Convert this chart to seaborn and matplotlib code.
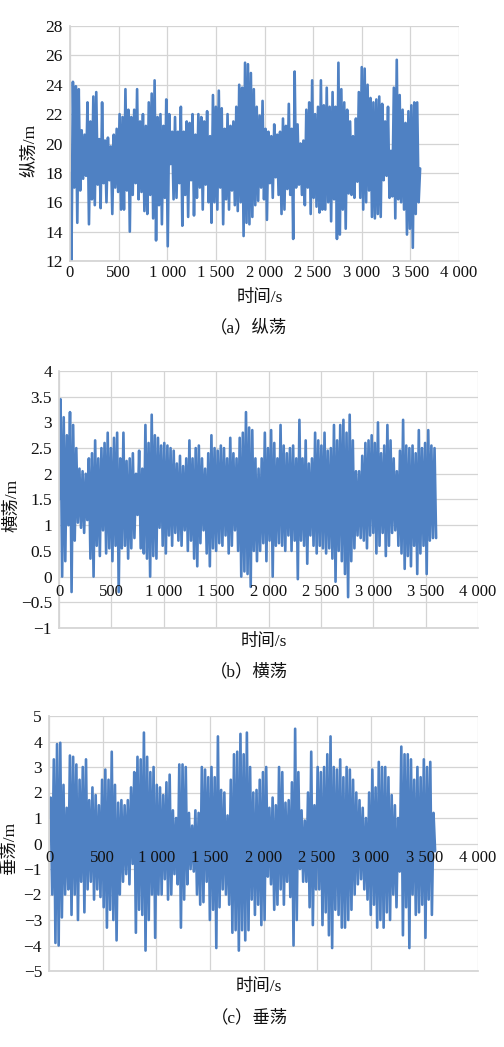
import matplotlib
matplotlib.use("Agg")
import matplotlib.pyplot as plt
import numpy as np
import seaborn as sns

# sample step of the hand-read series (s)
step = 15

# 纵荡 (surge), m, every 15 s
surge = [
    18.0, 12.0, 24.2, 17.0, 23.9, 14.6, 23.7, 16.8, 20.9, 17.6, 20.6, 17.8, 22.8, 14.5, 21.5, 16.2, 23.2, 15.8, 23.5, 17.2,
    20.3, 15.6, 22.8, 17.3, 20.2, 16.0, 20.4, 17.5, 19.8, 15.2, 20.6, 17.0, 21.0, 16.7, 22.0, 15.5, 21.8, 15.5, 23.7, 16.8,
    22.3, 14.0, 21.8, 16.5, 22.3, 17.3, 23.7, 16.2, 21.5, 16.7, 22.0, 15.4, 21.2, 15.2, 22.8, 16.5, 23.4, 14.9, 24.3, 13.4,
    21.8, 15.8, 22.0, 14.5, 21.2, 16.3, 23.0, 13.0, 22.0, 18.6, 20.8, 16.2, 21.8, 16.3, 20.8, 17.3, 22.5, 14.4, 20.8, 16.5,
    21.5, 15.0, 21.4, 17.5, 22.0, 15.1, 20.6, 16.3, 22.0, 17.0, 21.8, 15.5, 21.5, 17.2, 22.2, 16.0, 20.5, 14.6, 23.3, 16.0,
    22.5, 15.5, 23.6, 17.0, 22.4, 14.5, 21.0, 16.2, 22.0, 15.5, 21.2, 16.8, 21.5, 15.8, 22.5, 15.4, 24.0, 16.0, 23.8, 13.7,
    25.5, 14.6, 25.4, 14.5, 24.8, 15.0, 23.7, 15.8, 22.5, 16.1, 21.9, 17.0, 22.9, 16.2, 21.0, 14.8, 20.8, 17.3, 20.5, 16.3,
    21.3, 17.7, 20.6, 16.5, 20.8, 15.2, 21.7, 15.5, 21.2, 16.9, 22.7, 16.5, 21.0, 13.5, 24.9, 17.0, 21.3, 17.2, 20.0, 16.5,
    20.2, 15.8, 22.3, 17.0, 22.8, 15.2, 24.3, 16.3, 22.0, 15.7, 22.5, 15.3, 24.3, 15.5, 22.6, 15.5, 23.8, 16.0, 22.5, 14.7,
    23.5, 16.2, 22.5, 13.5, 25.5, 13.8, 23.7, 15.5, 22.8, 14.2, 22.3, 16.6, 21.5, 16.5, 20.5, 16.3, 21.7, 17.4, 23.5, 16.3,
    25.2, 15.5, 25.1, 16.0, 24.0, 16.8, 23.1, 15.0, 22.8, 14.9, 23.0, 15.2, 23.2, 15.0, 22.7, 17.5, 21.5, 17.8, 22.5, 16.3,
    19.5, 16.4, 23.8, 14.9, 25.7, 16.2, 23.3, 16.0, 22.3, 15.5, 21.4, 13.8, 22.2, 14.2, 22.6, 12.9, 22.8, 15.2, 22.8, 16.0,
    18.3,
]

# 横荡 (sway), m
sway = [
    1.5, 3.45, 0.0, 3.1, 0.3, 2.75, 1.0, 3.2, -0.3, 2.95, 0.7, 2.5, 1.05, 2.1, 0.95, 2.05, 0.85, 2.0, 1.1, 2.3,
    0.35, 2.4, 0.0, 2.65, 0.6, 2.3, 0.4, 2.5, 0.9, 2.6, 0.45, 2.8, 0.55, 2.5, 0.3, 2.7, 0.6, 2.8, -0.3, 2.3,
    0.55, 2.8, 0.6, 2.25, 0.35, 2.3, 0.55, 2.4, 0.75, 2.0, 1.2, 2.45, 0.55, 2.1, 0.45, 2.95, 0.35, 2.6, 0.0, 3.15,
    0.4, 2.75, 0.35, 2.7, 0.95, 2.55, 0.6, 2.6, 0.45, 2.55, 0.8, 2.5, 0.6, 2.45, 0.85, 2.2, 0.7, 2.35, 0.6, 2.15,
    0.9, 2.3, 0.5, 2.65, 0.7, 2.3, 0.35, 2.5, 0.2, 2.55, 0.65, 2.3, 0.9, 2.1, 0.45, 2.4, 0.2, 2.75, 0.55, 2.5,
    0.5, 2.45, 0.65, 2.55, 0.6, 2.5, 0.8, 2.3, 0.45, 2.7, 0.6, 2.4, 0.9, 2.3, 0.5, 2.7, 0.0, 2.8, 0.1, 3.2,
    0.05, 2.9, -0.2, 2.85, 0.5, 2.3, 0.3, 2.1, 0.5, 2.3, 0.65, 2.8, 0.3, 2.5, 0.7, 2.85, 0.0, 2.6, 0.6, 2.3,
    0.65, 2.95, 0.6, 2.55, 0.5, 2.4, 0.8, 2.5, 0.5, 2.55, 0.7, 2.3, -0.05, 3.05, 0.7, 2.3, 0.6, 2.65, 0.25, 2.2,
    0.8, 2.3, 0.6, 2.8, 0.45, 2.65, 0.6, 2.55, 0.55, 2.8, 0.45, 2.45, 0.55, 2.5, 0.35, 2.95, -0.1, 2.65, 0.5, 2.95,
    0.3, 3.05, 0.05, 2.8, -0.4, 3.15, 0.3, 2.65, 0.55, 2.05, 0.8, 2.05, 0.75, 2.35, 0.7, 2.6, 0.55, 2.65, 0.8, 2.75,
    0.85, 2.6, 0.45, 3.0, 0.6, 2.4, 0.85, 2.55, 0.4, 2.95, 0.6, 2.65, 0.85, 2.3, 0.9, 2.05, 0.6, 2.45, 0.45, 3.05,
    0.15, 2.55, 0.4, 2.5, 0.2, 2.55, 0.6, 2.4, 0.05, 2.85, 0.45, 2.5, 0.6, 2.6, 0.05, 2.85, 0.7, 2.55, 0.75, 2.5,
    0.75,
]

# 垂荡 (heave), m
heave = [
    1.0, 1.8, -2.0, 3.3, -3.9, 3.9, -4.0, 3.95, -2.9, 2.3, -2.0, 1.4, -1.8, 3.45, -2.8, 3.4, -2.0, 3.1, -3.0, 2.5,
    -1.5, 3.0, -2.7, 3.3, -1.8, 1.7, -1.5, 2.2, -2.2, 1.9, -1.8, 1.5, -2.1, 2.5, -2.5, 2.9, -3.3, 2.5, -2.6, 3.6,
    -3.0, 2.3, -3.8, 1.6, -2.0, 1.7, -1.5, 1.5, -1.2, 1.7, -1.6, 2.2, -0.8, 2.8, -3.5, 3.4, -2.6, 3.3, -2.8, 4.35,
    -4.2, 3.4, -3.0, 2.8, -2.0, 3.0, -3.7, 2.3, -2.0, 2.2, -2.0, 1.9, -1.4, 2.4, -2.2, 2.7, -2.0, 1.3, -1.2, 1.0,
    -1.6, 3.1, -3.3, 3.1, -2.2, 3.0, -1.6, 1.2, -1.0, 0.7, -1.1, 1.3, -2.0, 1.2, -2.4, 3.0, -2.3, 2.9, -1.5, 2.6,
    -3.0, 3.0, -2.6, 2.6, -4.1, 4.2, -2.5, 2.1, -1.8, 2.0, -2.0, 1.1, -2.4, 2.5, -3.5, 3.5, -3.4, 3.6, -4.2, 4.3,
    -3.4, 3.5, -3.8, 4.35, -3.4, 3.0, -2.2, 2.0, -2.8, 2.1, -2.4, 2.5, -3.2, 2.8, -3.0, 3.0, -1.3, 1.4, -1.6, 1.8,
    -2.6, 1.5, -2.4, 3.0, -1.8, 2.8, -2.4, 1.6, -1.5, 1.7, -2.1, 2.4, -4.0, 4.5, -3.0, 2.8, -1.0, 1.3, -1.5, 0.9,
    -1.5, 2.0, -2.5, 3.6, -3.2, 1.5, -1.8, 3.0, -1.8, 2.8, -3.2, 3.0, -2.7, 3.5, -3.6, 4.2, -4.1, 3.0, -2.6, 2.9,
    -2.8, 3.3, -3.3, 2.6, -3.3, 3.0, -3.0, 2.9, -2.6, 2.5, -2.0, 2.0, -1.6, 1.7, -1.4, 1.4, -1.8, 1.0, -2.2, 2.0,
    -2.8, 2.9, -2.4, 2.2, -3.3, 3.2, -3.0, 3.0, -3.3, 3.0, -2.7, 2.6, -3.0, 1.9, -2.0, 1.5, -2.5, 1.0, -1.1, 3.8,
    -3.6, 3.5, -2.5, 3.5, -4.1, 3.3, -2.0, 2.5, -2.8, 3.0, -2.7, 2.6, -2.4, 3.3, -3.7, 3.0, -2.2, 3.2, -2.8, 1.2,
    -0.3,
]

x_ticks = [0, 500, 1000, 1500, 2000, 2500, 3000, 3500, 4000]
x_tick_labels = ["0", "500", "1 000", "1 500", "2 000", "2 500", "3 000", "3 500", "4 000"]

surge_ticks = [12, 14, 16, 18, 20, 22, 24, 26, 28]
sway_ticks = [-1, -0.5, 0, 0.5, 1, 1.5, 2, 2.5, 3, 3.5, 4]
sway_tick_labels = ["\u22121", "\u22120.5", "0", "0.5", "1", "1.5", "2", "2.5", "3", "3.5", "4"]
heave_ticks = [-5, -4, -3, -2, -1, 0, 1, 2, 3, 4, 5]
heave_tick_labels = ["\u22125", "\u22124", "\u22123", "\u22122", "\u22121", "0", "1", "2", "3", "4", "5"]

y_labels = ["纵荡/m", "横荡/m", "垂荡/m"]
captions = ["（a）纵荡", "（b）横荡", "（c）垂荡"]
x_label = "时间/s"

sns.set_theme(style="white")
plt.rcParams["font.family"] = ["Liberation Serif", "Noto Sans CJK SC"]
plt.rcParams["axes.unicode_minus"] = True

line_color = "#4f81c3"
grid_color = "#d4d4d4"
text_color = "#111111"
W, H = 504, 1047

fig = plt.figure(figsize=(W / 100, H / 100), dpi=100)
fig.patch.set_facecolor("white")


def px_axes(left, top, right, bottom):
    return fig.add_axes([left / W, 1 - bottom / H, (right - left) / W, (bottom - top) / H])


panels = [
    # data, axes box (px), y ticks, y tick labels, x labels sit on y=0?, ylabel xy, xlabel xy, caption xy
    (surge, (70, 26, 459, 261), surge_ticks, [str(v) for v in surge_ticks], False,
     (30, 150), (260, 298), (249, 328)),
    (sway, (59, 371, 478, 628), sway_ticks, sway_tick_labels, True,
     (12, 505), (264, 642), (249, 672)),
    (heave, (49, 716, 478, 971), heave_ticks, heave_tick_labels, True,
     (10, 848), (259, 987), (249, 1018)),
]

for i, (vals, box, yt, ytl, on_zero, ylab_xy, xlab_xy, cap_xy) in enumerate(panels):
    ax = px_axes(*box)
    t = np.arange(len(vals)) * step
    sns.lineplot(x=t, y=vals, ax=ax, color=line_color, linewidth=1.9,
                 estimator=None, sort=False)

    ax.set_xlim(0, 4000)
    ax.set_ylim(yt[0], yt[-1])
    ax.set_xticks(x_ticks)
    ax.set_yticks(yt)
    ax.set_yticklabels(ytl)
    ax.grid(True, color=grid_color, linewidth=0.9)
    for s in ["top", "right"]:
        ax.spines[s].set_visible(False)
    ax.spines["left"].set_color(grid_color)
    ax.spines["bottom"].set_color(grid_color)
    ax.tick_params(axis="y", length=0, pad=5, labelsize=12.5, labelcolor=text_color)
    ax.set_xlabel("")
    ax.set_ylabel("")

    if not on_zero:
        ax.set_xticklabels(x_tick_labels)
        ax.tick_params(axis="x", length=0, pad=3, labelsize=12, labelcolor=text_color)
    else:
        # horizontal axis crosses at y = 0, labels hang just under it
        ax.tick_params(axis="x", length=0, labelbottom=False)
        for xv, lab in zip(x_ticks, x_tick_labels):
            ax.annotate(lab, xy=(xv, 0), xycoords="data", xytext=(0, -5),
                        textcoords="offset points", ha="center", va="top",
                        fontsize=12, color=text_color, zorder=5,
                        annotation_clip=False)

    fig.text(ylab_xy[0] / W, 1 - ylab_xy[1] / H, y_labels[i], rotation=90,
             ha="center", va="center", fontsize=12.5, color=text_color)
    fig.text(xlab_xy[0] / W, 1 - xlab_xy[1] / H, x_label,
             ha="center", va="center", fontsize=12.5, color=text_color)
    fig.text(cap_xy[0] / W, 1 - cap_xy[1] / H, captions[i],
             ha="center", va="center", fontsize=12.5, color=text_color)

fig.savefig("out.png", dpi=100, facecolor="white")
